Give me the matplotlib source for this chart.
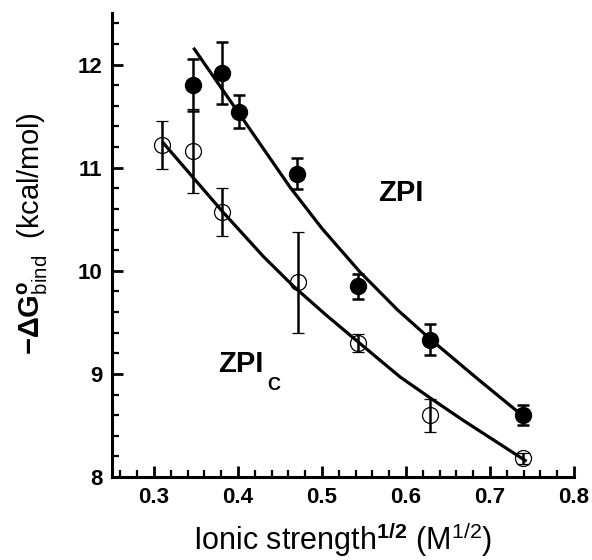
import matplotlib
matplotlib.use('Agg')
import matplotlib.pyplot as plt
from matplotlib.ticker import MultipleLocator

plt.rcParams['font.family'] = ['Liberation Sans', 'DejaVu Sans']
plt.rcParams['mathtext.fontset'] = 'custom'
plt.rcParams['mathtext.rm'] = 'Liberation Sans'
plt.rcParams['mathtext.bf'] = 'Liberation Sans:bold'
plt.rcParams['mathtext.it'] = 'Liberation Sans:italic'

# ZPI (filled circles)
zpi_x = [0.347, 0.381, 0.401, 0.470, 0.543, 0.629, 0.739]
zpi_y = [11.80, 11.92, 11.54, 10.94, 9.85, 9.33, 8.60]
zpi_err = [0.25, 0.30, 0.16, 0.15, 0.12, 0.15, 0.10]

# ZPI_C (open circles)
zpic_x = [0.309, 0.347, 0.381, 0.472, 0.543, 0.629, 0.739]
zpic_y = [11.22, 11.16, 10.57, 9.89, 9.30, 8.60, 8.18]
zpic_err = [0.23, 0.41, 0.23, 0.49, 0.09, 0.16, 0.05]

# fitted curves
fit_zpi_x = [0.348, 0.400, 0.462, 0.500, 0.545, 0.590, 0.630, 0.684, 0.738]
fit_zpi_y = [12.15, 11.54, 10.81, 10.41, 9.99, 9.62, 9.33, 8.96, 8.60]
fit_zpic_x = [0.311, 0.347, 0.382, 0.430, 0.466, 0.505, 0.543, 0.593, 0.630, 0.668, 0.742]
fit_zpic_y = [11.24, 10.90, 10.57, 10.14, 9.85, 9.57, 9.31, 8.97, 8.76, 8.55, 8.16]

fig = plt.figure(figsize=(5.92, 5.60), dpi=100)
ax = fig.add_axes([0.1892, 0.1482, 0.7804, 0.8286])

ax.plot(fit_zpi_x, fit_zpi_y, color='black', lw=2.3, solid_joinstyle='round')
ax.plot(fit_zpic_x, fit_zpic_y, color='black', lw=2.3, solid_joinstyle='round')

ax.errorbar(zpi_x, zpi_y, yerr=zpi_err, fmt='o', color='black', ms=11.5,
            mfc='black', mec='black', ecolor='black', elinewidth=1.8,
            capsize=4, capthick=1.8, zorder=3)
ax.errorbar(zpic_x, zpic_y, yerr=zpic_err, fmt='o', color='black', ms=11.5,
            mfc='none', mec='black', mew=0.9, ecolor='black', elinewidth=1.8,
            capsize=4, capthick=1.8, zorder=3)

ax.text(0.567, 10.68, 'ZPI', fontsize=21, fontweight='bold', ha='left', va='baseline')
ax.text(0.376, 9.02, 'ZPI', fontsize=21, fontweight='bold', ha='left', va='baseline')
ax.text(0.4345, 8.845, 'C', fontsize=13, fontweight='bold', ha='left', va='baseline')

ax.set_xlim(0.25, 0.8)
ax.set_ylim(8, 12.5)
ax.xaxis.set_minor_locator(MultipleLocator(0.02))
ax.yaxis.set_minor_locator(MultipleLocator(0.2))
ax.set_xticks([0.3, 0.4, 0.5, 0.6, 0.7, 0.8])
ax.set_xticklabels(['0.3', '0.4', '0.5', '0.6', '0.7', '0.8'])
ax.set_yticks([8, 9, 10, 11, 12])
ax.set_yticklabels(['8', '9', '10', '11', '12'])

ax.tick_params(which='major', direction='in', length=8, width=2, labelsize=16, pad=7)
ax.tick_params(which='minor', direction='in', length=5, width=1.6)
for lab in ax.get_xticklabels() + ax.get_yticklabels():
    lab.set_fontweight('bold')

for s in ['top', 'right']:
    ax.spines[s].set_visible(False)
for s in ['left', 'bottom']:
    ax.spines[s].set_linewidth(2.2)

ax.set_ylabel(r'$\mathbf{-\Delta G}^{\mathbf{o}}_{\mathrm{bind}}$  (kcal/mol)', fontsize=21)
ax.yaxis.set_label_coords(-0.135, 0.525)
ax.set_xlabel(r'Ionic strength$^{\mathbf{1/2}}$ (M$^{1/2}$)', fontsize=22)
ax.xaxis.set_label_coords(0.5, -0.092)

plt.savefig('out.png', dpi=100)
